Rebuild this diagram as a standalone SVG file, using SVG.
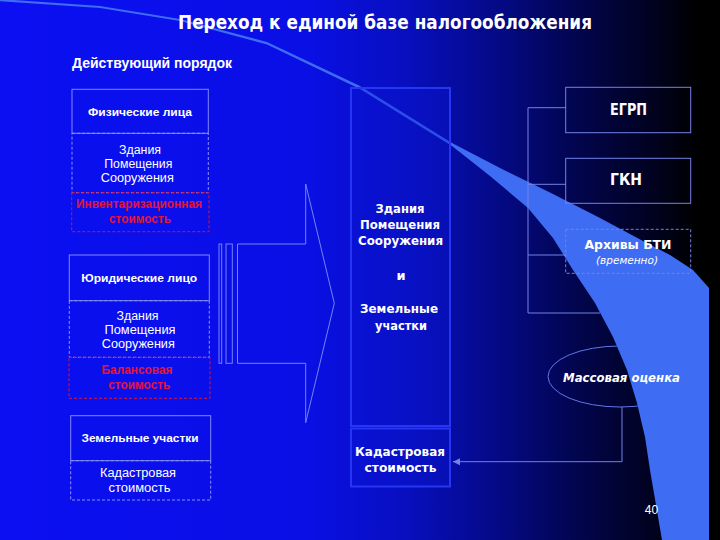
<svg xmlns="http://www.w3.org/2000/svg" width="720" height="540" viewBox="0 0 720 540">
<defs>
  <linearGradient id="bg" x1="0" y1="0" x2="1" y2="0">
    <stop offset="0" stop-color="#0b0ff2"/>
    <stop offset="0.42" stop-color="#0a0fe6"/>
    <stop offset="0.56" stop-color="#080fc0"/>
    <stop offset="0.7" stop-color="#040982"/>
    <stop offset="0.8" stop-color="#02054e"/>
    <stop offset="0.9" stop-color="#010222"/>
    <stop offset="0.97" stop-color="#000000"/>
  </linearGradient>
  <marker id="arr" markerWidth="8" markerHeight="8" refX="7" refY="4" orient="auto" markerUnits="userSpaceOnUse">
    <path d="M0,0.5 L7,4 L0,7.5 Z" fill="#7282e6"/>
  </marker>
  <clipPath id="offSwoosh">
    <path d="M530,330 L610,330 L613,337 L627,370 L637,403 L645,437 L530,437 Z"/>
  </clipPath>
</defs>
<style>
  .box{fill:none;stroke:#8088ff;stroke-width:1}
  .dash{fill:none;stroke:#8c90ff;stroke-width:1;stroke-dasharray:3 2}
  .rdash{fill:none;stroke:#d8143c;stroke-width:1;stroke-dasharray:3 2}
  .rbox{fill:none;stroke:#7282e6;stroke-width:1}
  .rdsh{fill:none;stroke:#7282e6;stroke-width:1;stroke-dasharray:3 2}
  .col{fill:#0c16d6;fill-opacity:0.35;stroke:#2636f2;stroke-width:2}
  .ln{fill:none;stroke:#7282e6;stroke-width:1}
  .arw{fill:none;stroke:#7484f6;stroke-width:1}
  .t{font-family:"Liberation Sans",Arial,sans-serif;fill:#ffffff;text-anchor:middle;font-size:12px}
  .b{font-weight:bold}
  .red{fill:#e2163a;font-weight:bold}
  .m{font-family:"DejaVu Sans","Liberation Sans",sans-serif;font-weight:bold;font-size:13px;fill:#ffffff;text-anchor:middle}
  .i{font-style:italic}
</style>
<rect x="0" y="0" width="720" height="540" fill="url(#bg)"/>
<path id="swoosh" fill="#3e6cf2" d="M0,-1 L100,6 L180,19 L267,42 L360,86 L452,143 L500,168 L551,193 L600,218 L643,241 L670,255 L693,270 L709,288 L709,540 L662,540 L656,505 L650,470 L645,437 L637,403 L627,370 L613,337 L595,303 L573,270 L553,238 L528,208 L490,176 L452,146 L360,89 L267,44.5 L180,21 L100,8 L0,1.2 Z"/>

<text class="t b" x="385" y="29" style="font-family:'DejaVu Sans',sans-serif;font-size:20px" textLength="414" lengthAdjust="spacingAndGlyphs">Переход к единой базе налогообложения</text>
<text class="t b" x="72" y="68" style="text-anchor:start;font-size:14px" textLength="160" lengthAdjust="spacingAndGlyphs">Действующий порядок</text>

<g id="connectors">
  <rect class="arw" x="219" y="244" width="2.7" height="119.3"/>
  <rect class="arw" x="226" y="244" width="6.3" height="119.3"/>
  <path class="arw" d="M237.5,244 H305.7 V184 L334.3,303.3 L305.7,422.7 V363.3 H237.5 Z"/>
  <path class="ln" d="M566,107.7 H528 V313 H600 M528,184.3 H566 M528,255 H566"/>
  <path class="ln" d="M622,407 V461.7 H453" marker-end="url(#arr)"/>
</g>

<g id="fiz">
  <rect class="box" x="72" y="89.3" width="136.3" height="44"/>
  <text class="t b" x="140" y="116" style="font-size:11px" textLength="104" lengthAdjust="spacingAndGlyphs">Физические лица</text>
</g>
<g id="fiz-buildings">
  <rect class="dash" x="72" y="133.3" width="136.3" height="59.4"/>
  <text class="t" x="140" y="154" textLength="42" lengthAdjust="spacingAndGlyphs">Здания</text>
  <text class="t" x="138.3" y="168" textLength="68" lengthAdjust="spacingAndGlyphs">Помещения</text>
  <text class="t" x="137.3" y="182" textLength="73" lengthAdjust="spacingAndGlyphs">Сооружения</text>
</g>
<g id="fiz-value">
  <rect class="rdash" x="71.7" y="192.7" width="137.3" height="39"/>
  <text class="t red" x="139" y="208" textLength="126" lengthAdjust="spacingAndGlyphs">Инвентаризационная</text>
  <text class="t red" x="140" y="223" textLength="62" lengthAdjust="spacingAndGlyphs">стоимость</text>
</g>

<g id="yur">
  <rect class="box" x="69.3" y="255" width="140" height="45.7"/>
  <text class="t b" x="139.2" y="282" style="font-size:11px" textLength="116" lengthAdjust="spacingAndGlyphs">Юридические лицо</text>
</g>
<g id="yur-buildings">
  <rect class="dash" x="69.3" y="300.7" width="140" height="56.6"/>
  <text class="t" x="137.5" y="319.5" textLength="42" lengthAdjust="spacingAndGlyphs">Здания</text>
  <text class="t" x="140" y="333.5" textLength="71" lengthAdjust="spacingAndGlyphs">Помещения</text>
  <text class="t" x="138.3" y="347.5" textLength="73" lengthAdjust="spacingAndGlyphs">Сооружения</text>
</g>
<g id="yur-value">
  <rect class="rdash" x="69" y="357.3" width="141" height="41"/>
  <text class="t red" x="137" y="374" textLength="71" lengthAdjust="spacingAndGlyphs">Балансовая</text>
  <text class="t red" x="139.3" y="389" textLength="62" lengthAdjust="spacingAndGlyphs">стоимость</text>
</g>

<g id="land">
  <rect class="box" x="70.7" y="415.7" width="140" height="45"/>
  <text class="t b" x="140" y="442" style="font-size:11px" textLength="117" lengthAdjust="spacingAndGlyphs">Земельные участки</text>
</g>
<g id="land-value">
  <rect class="dash" x="70.7" y="460.7" width="140" height="39.3"/>
  <text class="t" x="138" y="477" textLength="76" lengthAdjust="spacingAndGlyphs">Кадастровая</text>
  <text class="t" x="139.5" y="492" textLength="62" lengthAdjust="spacingAndGlyphs">стоимость</text>
</g>

<g id="middle">
  <rect class="col" x="351" y="88" width="99" height="338"/>
  <text class="m" x="400" y="213" textLength="49" lengthAdjust="spacingAndGlyphs">Здания</text>
  <text class="m" x="400" y="229" textLength="80" lengthAdjust="spacingAndGlyphs">Помещения</text>
  <text class="m" x="400.5" y="245" textLength="85" lengthAdjust="spacingAndGlyphs">Сооружения</text>
  <text class="m" x="401" y="280">и</text>
  <text class="m" x="399" y="313" textLength="78" lengthAdjust="spacingAndGlyphs">Земельные</text>
  <text class="m" x="401" y="330" textLength="52" lengthAdjust="spacingAndGlyphs">участки</text>
</g>
<g id="cadastral">
  <rect class="col" x="351" y="428.5" width="99" height="58"/>
  <text class="m" x="400" y="456" textLength="90" lengthAdjust="spacingAndGlyphs">Кадастровая</text>
  <text class="m" x="400.5" y="472" textLength="72" lengthAdjust="spacingAndGlyphs">стоимость</text>
</g>

<g id="egrp">
  <rect class="rbox" x="565.7" y="87.3" width="125" height="45.4"/>
  <text class="m" x="628.5" y="115" style="font-size:15px" textLength="37" lengthAdjust="spacingAndGlyphs">ЕГРП</text>
</g>
<g id="gkn">
  <rect class="rbox" x="565.7" y="158.3" width="125" height="45"/>
  <text class="m" x="626" y="185" style="font-size:15px" textLength="32" lengthAdjust="spacingAndGlyphs">ГКН</text>
</g>
<g id="bti">
  <rect class="rdsh" x="565.7" y="229.3" width="125" height="44"/>
  <text class="m" x="628" y="249" textLength="87" lengthAdjust="spacingAndGlyphs">Архивы БТИ</text>
  <text class="m i" x="627" y="264" style="font-weight:normal;font-size:11px" textLength="62" lengthAdjust="spacingAndGlyphs">(временно)</text>
</g>
<g id="mass">
  <ellipse cx="620" cy="376.5" rx="72" ry="30.5" fill="none" stroke="#6078e6" stroke-width="1" clip-path="url(#offSwoosh)"/>
  <text class="m i" x="621.5" y="382" textLength="117" lengthAdjust="spacingAndGlyphs">Массовая оценка</text>
</g>

<text class="t" x="651.5" y="514" style="font-size:12px">40</text>
</svg>
